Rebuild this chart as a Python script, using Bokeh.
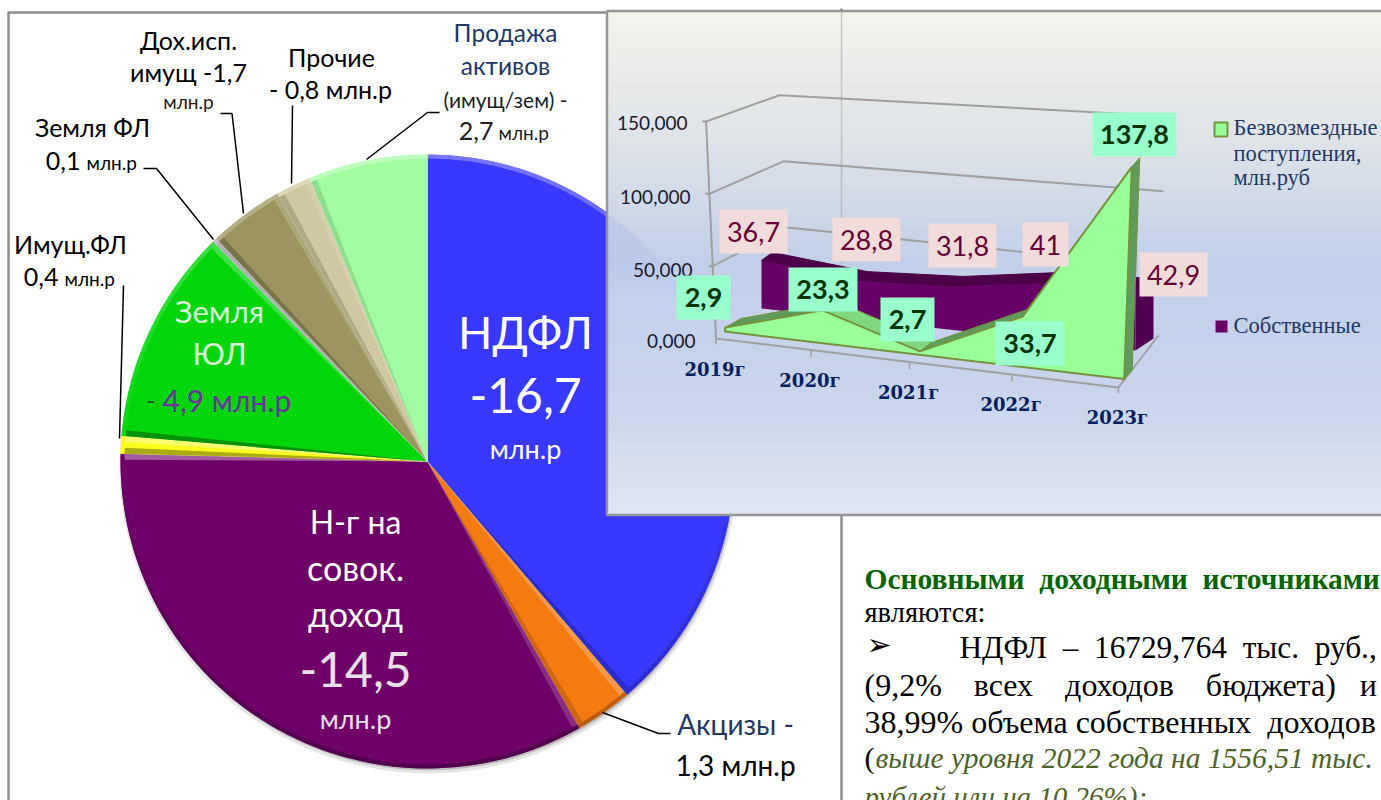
import math
from bokeh.plotting import figure
from bokeh.embed import file_html
from bokeh.resources import INLINE
from bokeh.core.properties import value

# ---------- data ----------
pie_names = ["НДФЛ", "Акцизы", "Н-г на совок. доход", "Имущ.ФЛ", "Земля ЮЛ", "Земля ФЛ", "Дох.исп. имущ", "Прочие", "Продажа активов"]
pie_values = [16.7, 1.3, 14.5, 0.4, 4.9, 0.1, 1.7, 0.8, 2.7]
pie_colors = ["#3838ff", "#f57a12", "#6e0068", "#fbfb1e", "#00d60a", "#b0b0b0", "#9d9560", "#cfc8a0", "#a2fda2"]
years = ["2019г", "2020г", "2021г", "2022г", "2023г"]
bezvozmezdnye = [2.9, 23.3, 2.7, 33.7, 137.8]
sobstvennye = [36.7, 28.8, 31.8, 41.0, 42.9]
bezv_labels = ["2,9", "23,3", "2,7", "33,7", "137,8"]
sobst_labels = ["36,7", "28,8", "31,8", "41", "42,9"]
y_ticks = [0, 50, 100, 150]
y_tick_labels = ["0,000", "50,000", "100,000", "150,000"]

SANS = "Lato"
SERIF = "Liberation Serif"
W, H = 1381, 800
p = figure(width=W, height=H, x_range=(0, 1381), y_range=(0, 800), output_backend="svg",
           toolbar_location=None, min_border=0, outline_line_color=None)
p.axis.visible = False
p.grid.visible = False
p.background_fill_color = "white"
p.border_fill_color = "white"

def Y(py):
    return 800 - py

def hex2(c):
    return [int(c[i:i + 2], 16) for i in (1, 3, 5)]

def mix(c, other, f):
    a, b = hex2(c), hex2(other)
    return "#%02x%02x%02x" % tuple(round(a[i] * (1 - f) + b[i] * f) for i in range(3))

def shade(c, s):
    return mix(c, "#ffffff", 0.45 * s) if s > 0 else mix(c, "#000000", 0.4 * -s)

def text(x, y, s, size, color="#000000", align="center", font=SANS, style="normal"):
    dy = size * 0.07 if font == SANS else 1
    p.text(x=[x], y=[Y(y - dy)], text=[s], text_font=value(font), text_font_size=f"{size}px",
           text_color=color, text_align=align, text_baseline="middle", text_font_style=style)

def line(pts, color="#000000", width=1.5, alpha=1.0):
    p.line([a for a, _ in pts], [Y(b) for _, b in pts], line_color=color, line_width=width, line_alpha=alpha)

def patch(pts, fill, edge=None, width=1.0, alpha=1.0):
    p.patch([a for a, _ in pts], [Y(b) for _, b in pts], fill_color=fill, fill_alpha=alpha,
            line_color=edge, line_width=width)

# ---------- frame ----------
line([(8, 800), (8, 12), (610, 12)], "#8c8c8c", 2.5)
line([(841, 8), (841, 800)], "#8f8f8f", 2.5)

# ---------- pie ----------
CX, CY, R = 427, 461, 307
total = sum(pie_values)
p.circle(x=[CX + 1], y=[Y(CY + 3)], radius=R + 2, fill_color="#000000", fill_alpha=0.10, line_color=None)
p.circle(x=[CX + 1], y=[Y(CY + 2)], radius=R, fill_color="#000000", fill_alpha=0.18, line_color=None)
cum = 0.0
for val, col in zip(pie_values, pie_colors):
    a1 = math.pi / 2 - cum / total * 2 * math.pi
    cum += val
    a0 = math.pi / 2 - cum / total * 2 * math.pi
    p.wedge(x=[CX], y=[Y(CY)], radius=R, start_angle=a0, end_angle=a1, fill_color=col,
            line_color="#ffffff", line_alpha=0.35, line_width=0.8)
    # bevel along the radial edges
    inset = 6 / R
    if a1 - a0 > 2 * inset:
        for edge, inner, normal in ((a1, a1 - inset, a1 + math.pi / 2), (a0, a0 + inset, a0 - math.pi / 2)):
            s = math.sin(normal)
            pts = [(CX, CY), (CX + R * math.cos(edge), CY - R * math.sin(edge)),
                   (CX + (R - 4) * math.cos(inner), CY - (R - 4) * math.sin(inner))]
            patch(pts, shade(col, s * 0.8), None)
    # bevel along the rim
    n = max(2, int((a1 - a0) / math.radians(4)))
    for k in range(n):
        b0 = a0 + (a1 - a0) * k / n
        b1 = a0 + (a1 - a0) * (k + 1) / n
        s = math.sin((b0 + b1) / 2)
        p.annular_wedge(x=[CX], y=[Y(CY)], inner_radius=R - 4, outer_radius=R, start_angle=b0, end_angle=b1,
                        fill_color=shade(col, s * 0.7), line_color=None)

# pie leaders
line([(366, 159), (427, 112), (439, 112)])
line([(291, 183), (292, 105)])
line([(243, 213), (231.5, 113), (220, 113)])
line([(213, 239), (156, 168), (143, 168)])
line([(123, 285), (119, 438)])
line([(602, 712), (658, 733), (670, 733)])

# pie texts
text(525, 335, "НДФЛ", 45, "#ffffff")
text(525, 398, "-16,7", 48, "#ffffff")
text(525, 450, "млн.р", 27, "#ffffff")
text(355, 523, "Н-г на", 32, "#ffffff")
text(355, 569, "совок.", 34, "#ffffff")
text(355, 615, "доход", 34, "#ffffff")
text(355, 672, "-14,5", 48, "#e8e0e8")
text(355, 720, "млн.р", 27, "#e8e0e8")
text(219, 313, "Земля", 31, "#d8f5d8")
text(219, 355, "ЮЛ", 31, "#d8f5d8")
text(146, 402, "-", 24, "#404040", "left")
text(162, 402, "4,9 млн.р", 30, "#7030a0", "left")

NAVY = "#1f3864"
text(505, 34, "Продажа", 24.5, NAVY)
text(505, 67, "активов", 24.5, NAVY)
text(505, 100, "(имущ/зем) -", 21, "#202020")
text(493, 132, "2,7", 25, "#202020", "right")
text(498, 133, "млн.р", 19, "#202020", "left")
text(188, 41, "Дох.исп.", 25)
text(188, 73, "имущ -1,7", 25)
text(188, 102, "млн.р", 19, "#202020")
text(331, 58, "Прочие", 25)
text(330, 90, "- 0,8 млн.р", 25)
text(92, 128, "Земля ФЛ", 25)
text(80, 162, "0,1", 25, "#000000", "right")
text(86, 163, "млн.р", 19, "#000000", "left")
text(70, 245, "Имущ.ФЛ", 25)
text(58, 278, "0,4", 25, "#000000", "right")
text(64, 279, "млн.р", 19, "#000000", "left")
text(735, 725, "Акцизы -", 28, NAVY)
text(735, 766, "1,3 млн.р", 28)

# ---------- right column text ----------
TNR = SERIF
NB = "\u00a0"
text(864, 579, f"Основными{NB*2}доходными{NB*2}источниками", 29.5, "#006400", "left", TNR, "bold")
text(864, 613, "являются:", 28.5, "#000000", "left", TNR)
text(866, 645, "➢", 30, "#000000", "left", "DejaVu Sans")
text(959, 648, f"НДФЛ{NB*2}–{NB*2}16729,764{NB*2}тыс.{NB*2}руб.,", 31.3, "#000000", "left", TNR)
text(864, 685, f"(9,2%{NB*4}всех{NB*4}доходов{NB*4}бюджета){NB*3}и", 32, "#000000", "left", TNR)
text(864, 722, f"38,99% объема собственных{NB*2}доходов", 32, "#000000", "left", TNR)
text(864, 758, "(", 30, "#000000", "left", TNR)
text(875, 758, "выше уровня 2022 года на 1556,51 тыс.", 29.5, "#4f6228", "left", TNR, "italic")
text(864, 797, "рублей или на 10,26%);", 29, "#4f6228", "left", TNR, "italic")

# ---------- inset panel with gradient ----------
stops = [(11, "#f4f3ec"), (150, "#dde2e8"), (260, "#c2cfe9"), (400, "#cad5ec"), (514, "#e0e6f3")]
tops, bottoms, cols = [], [], []
for yy in range(11, 514, 3):
    for (y0, c0), (y1, c1) in zip(stops, stops[1:]):
        if y0 <= yy <= y1:
            cols.append(mix(c0, c1, (yy - y0) / (y1 - y0)))
            break
    tops.append(Y(yy))
    bottoms.append(Y(min(yy + 4, 514)))
p.quad(left=606, right=1381, top=tops, bottom=bottoms, fill_color=cols, line_color=None)

# the pie and the column rule show faintly through the upper panel
PANEL_L = 606
fade_top = CY - math.sqrt(R * R - (PANEL_L - CX) ** 2)
rows_y, rows_x, rows_a = [], [], []
yy = fade_top
while yy < 300:
    rows_y.append(yy)
    rows_x.append(CX + math.sqrt(R * R - (CY - yy) ** 2))
    rows_a.append(0.09 * (300 - yy) / (300 - fade_top))
    yy += 2
p.quad(left=PANEL_L, right=rows_x, top=[Y(v) for v in rows_y], bottom=[Y(v + 2) for v in rows_y],
       fill_color="#3838ff", fill_alpha=rows_a, line_color=None)
line([(841, 12), (841, 340)], "#a8a8a8", 1.5, 0.6)
line([(1381, 10.5), (606.5, 10.5), (606.5, 514.5), (1381, 514.5)], "#969696", 2.5)

# ---------- 3-D area chart projection ----------
GRID = "#a0a0a0"

def axis_x(i):
    return 715.5 + 93 * i + 1.9 * i * i

def axis_pt(i):
    return (axis_x(i), 338 + 12.25 * i)

def wall_pt(v):
    return (715.5 - v * 0.066, 338 - v * 1.447)

def back_pt(v):
    return (787 - (v - 50) * 0.08, 227 - (v - 50) * 1.323)

def back_end(v):
    slope = 0.104 - (v - 50) * 0.0005
    x = {50: 1100, 100: 1163, 150: 1130}[v]
    bx, by = back_pt(v)
    return (x, by + (x - bx) * slope)

# walls and floor
for v in y_ticks[1:]:
    a = wall_pt(v)
    line([(a[0] - 4, a[1]), a, back_pt(v), back_end(v)], GRID, 2)
line([wall_pt(0), wall_pt(150)], GRID, 2)
line([axis_pt(0), axis_pt(4), (1158, 335)], GRID, 2)
for i in range(5):
    x, y = axis_pt(i)
    line([(x, y), (x, y + 6)], GRID, 1.5)

def purple_base(i):
    return (761 + 93.5 * i, 308 + 10.5 * i)

def purple_pt(i):
    bx, by = purple_base(i)
    return (bx, by - sobstvennye[i] * (1.31 + 0.022 * i))

def purple_back(x, y, i):
    return (x + 11 + 1.75 * i, y - 8 - i)

# own revenue series
pts = [purple_pt(i) for i in range(5)]
for i in range(4):
    a, b = pts[i], pts[i + 1]
    patch([a, b, purple_back(*b, i + 1), purple_back(*a, i)], "#4b0047", "#4b0047", 1)
base = [purple_base(i) for i in range(5)]
r_top, r_base = pts[4], base[4]
patch([r_top, purple_back(*r_top, 4), purple_back(*r_base, 4), r_base], "#4f0050")
patch(pts + base[::-1], "#660066")

def green_base(i):
    return (724.5 + 95 * i + 1.2 * i * i, 331 + 11.9 * i)

def green_pt(i):
    bx, by = green_base(i)
    v = bezvozmezdnye[i]
    return (bx + v * 0.055, by - v * (1.38 + 0.04 * i))

def green_back(x, y, i):
    return (x + 16 - 2 * i, y - 9)

# grants series
gp = [green_pt(i) for i in range(5)]
gb = [green_base(i) for i in range(5)]
for i in range(4):
    a, b = gp[i], gp[i + 1]
    fill = "#5d9c5d" if b[1] < a[1] else "#7fd87f"
    patch([a, b, green_back(*b, i + 1), green_back(*a, i)], fill, "#76923c", 1)
gt, gbo = gp[4], gb[4]
patch([gt, green_back(*gt, 4), green_back(*gbo, 4), gbo], "#5d9c5d", "#76923c", 1)
patch(gp + [gb[4], gb[0]], "#99ff99", "#76923c", 2)

# tick labels
tick_right = {0: 695, 50: 692, 100: 690, 150: 687}
tick_y = {0: 342, 50: 271, 100: 198, 150: 124}
for v, lab in zip(y_ticks, y_tick_labels):
    text(tick_right[v], tick_y[v], lab, 19, "#1a1a2a", "right")
cat_y = [370, 381, 393, 405, 418]
for i, lab in enumerate(years):
    text(axis_x(i) - 1, cat_y[i], lab, 18, "#002060", "center", "DejaVu Serif", "bold")

# value boxes
pink_boxes = [(719, 209, 787, 253), (832, 217, 900, 261), (928, 223, 996, 267), (1022, 222, 1068, 266), (1139, 252, 1207, 296)]
aqua_boxes = [(676, 275, 730, 319), (788, 267, 857, 311), (880, 297, 934, 341), (995, 321, 1064, 365), (1092, 112, 1176, 156)]
for (x0, y0, x1, y1), lab in zip(pink_boxes, sobst_labels):
    p.quad(left=[x0], right=[x1], top=[Y(y0)], bottom=[Y(y1)], fill_color="#f2dcdb", line_color=None)
    text((x0 + x1) / 2, (y0 + y1) / 2 + 2, lab, 27, "#660033")
for (x0, y0, x1, y1), lab in zip(aqua_boxes, bezv_labels):
    p.quad(left=[x0], right=[x1], top=[Y(y0)], bottom=[Y(y1)], fill_color="#99ffcc", line_color=None)
    text((x0 + x1) / 2, (y0 + y1) / 2 + 2, lab, 27, "#003300", "center", SANS, "bold")

# legend
p.quad(left=[1214], right=[1227], top=[Y(122)], bottom=[Y(136)], fill_color="#99ff99", line_color="#76923c", line_width=2)
text(1233, 128, "Безвозмездные", 22.5, NAVY, "left", SERIF)
text(1233, 154, "поступления,", 22.5, NAVY, "left", SERIF)
text(1233, 178, "млн.руб", 22.5, NAVY, "left", SERIF)
p.quad(left=[1215], right=[1227], top=[Y(320)], bottom=[Y(332)], fill_color="#660066", line_color=None)
text(1233, 326, "Собственные", 22.5, NAVY, "left", SERIF)

open("out.html", "w").write(file_html(p, INLINE))
